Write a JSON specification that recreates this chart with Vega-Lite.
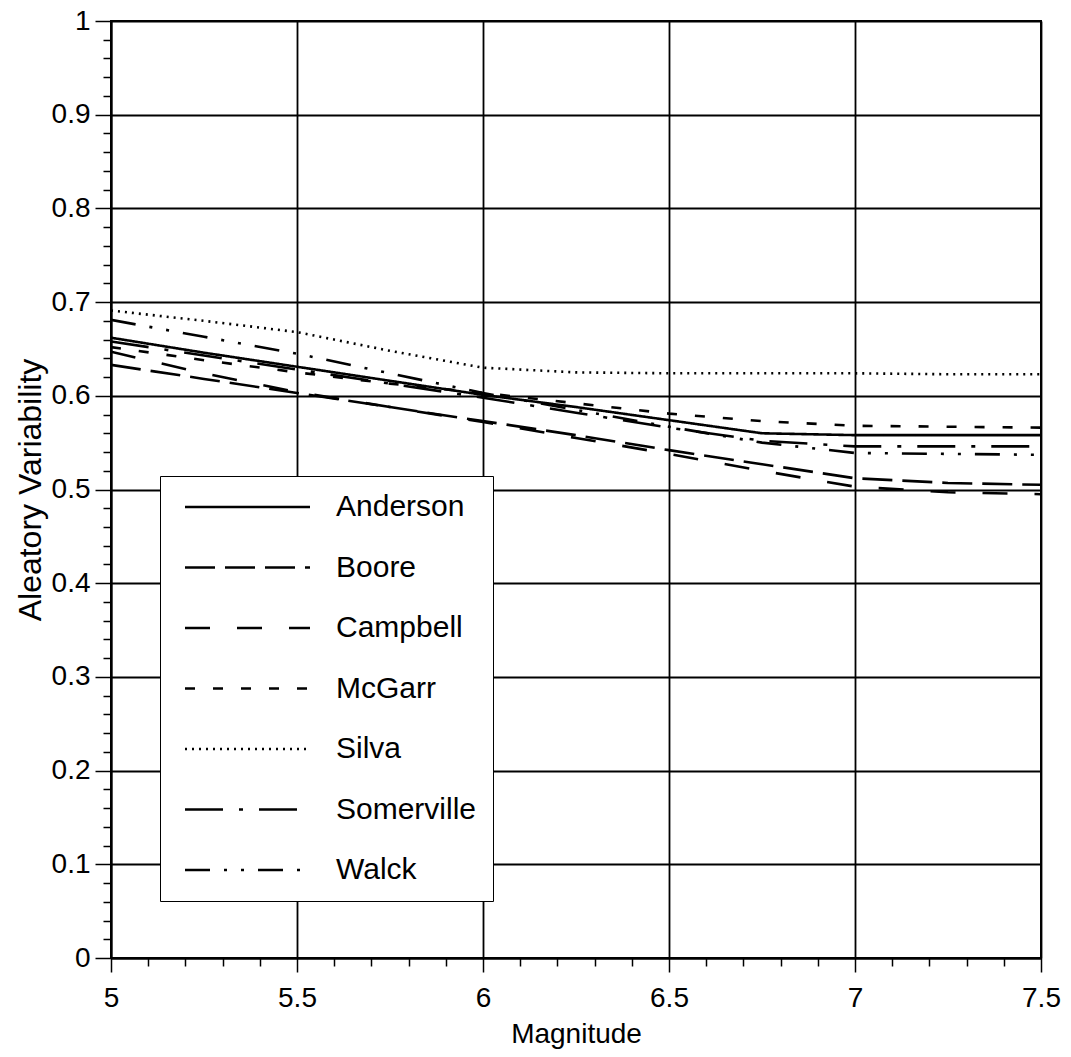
{
  "$schema": "https://vega.github.io/schema/vega-lite/v6.json",
  "autosize": {"type": "none"},
  "width": 930,
  "height": 937,
  "padding": {"left": 111, "top": 21, "right": 30, "bottom": 99},
  "background": "white",
  "config": {
    "font": "Liberation Sans",
    "view": {"stroke": "black", "strokeWidth": 2},
    "axis": {"labelColor": "black", "titleColor": "black", "titleFontWeight": "normal"}
  },
  "datasets": {
    "curves": [
      {"model": "Anderson", "m": 5.0, "sigma": 0.662}, {"model": "Anderson", "m": 5.25, "sigma": 0.646}, {"model": "Anderson", "m": 5.5, "sigma": 0.631}, {"model": "Anderson", "m": 5.75, "sigma": 0.616}, {"model": "Anderson", "m": 6.0, "sigma": 0.601}, {"model": "Anderson", "m": 6.25, "sigma": 0.588}, {"model": "Anderson", "m": 6.5, "sigma": 0.574}, {"model": "Anderson", "m": 6.75, "sigma": 0.56}, {"model": "Anderson", "m": 7.0, "sigma": 0.558}, {"model": "Anderson", "m": 7.25, "sigma": 0.558}, {"model": "Anderson", "m": 7.5, "sigma": 0.558},
      {"model": "Boore", "m": 5.0, "sigma": 0.633}, {"model": "Boore", "m": 5.25, "sigma": 0.618}, {"model": "Boore", "m": 5.5, "sigma": 0.603}, {"model": "Boore", "m": 5.75, "sigma": 0.588}, {"model": "Boore", "m": 6.0, "sigma": 0.573}, {"model": "Boore", "m": 6.25, "sigma": 0.558}, {"model": "Boore", "m": 6.5, "sigma": 0.542}, {"model": "Boore", "m": 6.75, "sigma": 0.527}, {"model": "Boore", "m": 7.0, "sigma": 0.512}, {"model": "Boore", "m": 7.25, "sigma": 0.507}, {"model": "Boore", "m": 7.5, "sigma": 0.505},
      {"model": "Campbell", "m": 5.0, "sigma": 0.647}, {"model": "Campbell", "m": 5.25, "sigma": 0.624}, {"model": "Campbell", "m": 5.5, "sigma": 0.604}, {"model": "Campbell", "m": 5.75, "sigma": 0.588}, {"model": "Campbell", "m": 6.0, "sigma": 0.572}, {"model": "Campbell", "m": 6.25, "sigma": 0.555}, {"model": "Campbell", "m": 6.5, "sigma": 0.538}, {"model": "Campbell", "m": 6.75, "sigma": 0.52}, {"model": "Campbell", "m": 7.0, "sigma": 0.503}, {"model": "Campbell", "m": 7.25, "sigma": 0.497}, {"model": "Campbell", "m": 7.5, "sigma": 0.495},
      {"model": "McGarr", "m": 5.0, "sigma": 0.652}, {"model": "McGarr", "m": 5.25, "sigma": 0.638}, {"model": "McGarr", "m": 5.5, "sigma": 0.625}, {"model": "McGarr", "m": 5.75, "sigma": 0.613}, {"model": "McGarr", "m": 6.0, "sigma": 0.603}, {"model": "McGarr", "m": 6.25, "sigma": 0.592}, {"model": "McGarr", "m": 6.5, "sigma": 0.581}, {"model": "McGarr", "m": 6.75, "sigma": 0.573}, {"model": "McGarr", "m": 7.0, "sigma": 0.568}, {"model": "McGarr", "m": 7.25, "sigma": 0.567}, {"model": "McGarr", "m": 7.5, "sigma": 0.566},
      {"model": "Silva", "m": 5.0, "sigma": 0.691}, {"model": "Silva", "m": 5.25, "sigma": 0.68}, {"model": "Silva", "m": 5.5, "sigma": 0.668}, {"model": "Silva", "m": 5.75, "sigma": 0.648}, {"model": "Silva", "m": 6.0, "sigma": 0.63}, {"model": "Silva", "m": 6.25, "sigma": 0.625}, {"model": "Silva", "m": 6.5, "sigma": 0.624}, {"model": "Silva", "m": 6.75, "sigma": 0.624}, {"model": "Silva", "m": 7.0, "sigma": 0.624}, {"model": "Silva", "m": 7.25, "sigma": 0.623}, {"model": "Silva", "m": 7.5, "sigma": 0.623},
      {"model": "Somerville", "m": 5.0, "sigma": 0.658}, {"model": "Somerville", "m": 5.25, "sigma": 0.643}, {"model": "Somerville", "m": 5.5, "sigma": 0.628}, {"model": "Somerville", "m": 5.75, "sigma": 0.613}, {"model": "Somerville", "m": 6.0, "sigma": 0.598}, {"model": "Somerville", "m": 6.25, "sigma": 0.582}, {"model": "Somerville", "m": 6.5, "sigma": 0.566}, {"model": "Somerville", "m": 6.75, "sigma": 0.552}, {"model": "Somerville", "m": 7.0, "sigma": 0.546}, {"model": "Somerville", "m": 7.25, "sigma": 0.546}, {"model": "Somerville", "m": 7.5, "sigma": 0.546},
      {"model": "Walck", "m": 5.0, "sigma": 0.681}, {"model": "Walck", "m": 5.25, "sigma": 0.663}, {"model": "Walck", "m": 5.5, "sigma": 0.645}, {"model": "Walck", "m": 5.75, "sigma": 0.624}, {"model": "Walck", "m": 6.0, "sigma": 0.603}, {"model": "Walck", "m": 6.25, "sigma": 0.585}, {"model": "Walck", "m": 6.5, "sigma": 0.567}, {"model": "Walck", "m": 6.75, "sigma": 0.55}, {"model": "Walck", "m": 7.0, "sigma": 0.539}, {"model": "Walck", "m": 7.25, "sigma": 0.538}, {"model": "Walck", "m": 7.5, "sigma": 0.537}
    ]
  },
  "data": {"name": "curves"},
  "layer": [
    {
      "mark": {"type": "line", "color": "black", "strokeWidth": 2.6, "clip": true},
      "encoding": {
        "x": {
          "field": "m", "type": "quantitative",
          "scale": {"domain": [5, 7.5], "nice": false, "zero": false},
          "axis": {
            "title": "Magnitude", "values": [5, 5.5, 6, 6.5, 7, 7.5], "format": "~g",
            "labelFontSize": 28, "titleFontSize": 28, "titlePadding": 8,
            "tickSize": 14, "tickColor": "black", "tickWidth": 1.5, "labelPadding": 12,
            "domainColor": "black", "domainWidth": 2,
            "grid": true, "gridColor": "black", "gridWidth": 1.8, "gridOpacity": 1,
            "labelFlush": false
          }
        },
        "y": {
          "field": "sigma", "type": "quantitative",
          "scale": {"domain": [0, 1], "nice": false},
          "axis": {
            "title": "Aleatory Variability", "values": [0, 0.1, 0.2, 0.3, 0.4, 0.5, 0.6, 0.7, 0.8, 0.9, 1], "format": "~g",
            "labelFontSize": 28, "titleFontSize": 32, "titlePadding": 4,
            "tickSize": 16, "tickColor": "black", "tickWidth": 1.5, "labelPadding": 5,
            "domainColor": "black", "domainWidth": 2,
            "grid": true, "gridColor": "black", "gridWidth": 1.8, "gridOpacity": 1,
            "labelFlush": false
          }
        },
        "strokeDash": {
          "field": "model", "type": "nominal",
          "scale": {
            "domain": ["Anderson", "Boore", "Campbell", "McGarr", "Silva", "Somerville", "Walck"],
            "range": [[1, 0], [30, 10], [25, 27], [10, 18], [2, 5], [38, 16, 4, 16], [25, 14, 3, 14, 3, 14]]
          },
          "legend": {
            "title": null, "orient": "none", "legendX": 49, "legendY": 455,
            "symbolType": "M-6,0H119", "symbolSize": 4, "symbolStrokeWidth": 2.6,
            "symbolStrokeColor": "black", "labelFontSize": 30, "labelColor": "black",
            "labelOffset": 130, "rowPadding": 30.5, "padding": 16,
            "strokeColor": "black", "fillColor": "white"
          }
        }
      }
    },
    {
      "mark": {"type": "line", "opacity": 0},
      "encoding": {
        "x": {
          "field": "m", "type": "quantitative",
          "axis": {
            "orient": "bottom", "title": null, "labels": false, "domain": false, "grid": false,
            "values": [5.1, 5.2, 5.3, 5.4, 5.6, 5.7, 5.8, 5.9, 6.1, 6.2, 6.3, 6.4, 6.6, 6.7, 6.8, 6.9, 7.1, 7.2, 7.3, 7.4],
            "tickSize": 8, "tickColor": "black", "tickWidth": 1.5
          }
        },
        "y": {
          "field": "sigma", "type": "quantitative",
          "axis": {
            "orient": "left", "title": null, "labels": false, "domain": false, "grid": false,
            "values": [0.02, 0.04, 0.06, 0.08, 0.12, 0.14, 0.16, 0.18, 0.22, 0.24, 0.26, 0.28, 0.32, 0.34, 0.36, 0.38, 0.42, 0.44, 0.46, 0.48, 0.52, 0.54, 0.56, 0.58, 0.62, 0.64, 0.66, 0.68, 0.72, 0.74, 0.76, 0.78, 0.82, 0.84, 0.86, 0.88, 0.92, 0.94, 0.96, 0.98],
            "tickSize": 8, "tickColor": "black", "tickWidth": 1.5
          }
        },
        "detail": {"field": "model", "type": "nominal"}
      }
    }
  ],
  "resolve": {"axis": {"x": "independent", "y": "independent"}}
}
